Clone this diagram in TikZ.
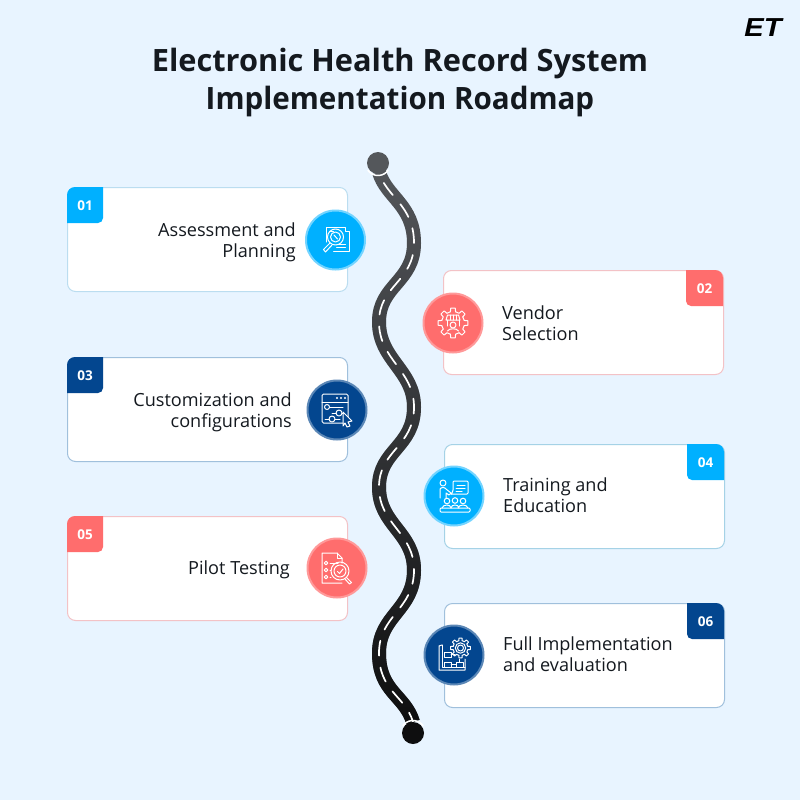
\documentclass[tikz,border=0pt]{standalone}
\usepackage{graphicx}
\usepackage{fontspec}
\setmainfont{Open Sans}
\newfontfamily\logofont{Liberation Sans}
\usetikzlibrary{fadings}
\definecolor{bgblue}{HTML}{E8F4FF}
\definecolor{inkdark}{HTML}{14191F}
\definecolor{cyanb}{HTML}{00B0FF}
\definecolor{redb}{HTML}{FF6D6D}
\definecolor{navyb}{HTML}{03468F}
\definecolor{cyanline}{HTML}{BBDDF0}
\definecolor{cyanline2}{HTML}{A5D2E6}
\definecolor{redline}{HTML}{F3C2C6}
\definecolor{navyline}{HTML}{A0C0DC}
\definecolor{roadgrey}{HTML}{54575B}
\definecolor{roadblack}{HTML}{0E0E0F}
\tikzfading[name=roadfade, top color=transparent!100, bottom color=transparent!0]
\tikzset{
  x=1pt,y=-1pt,
  cardbox/.style={draw=#1,line width=1pt,fill=white,rounded corners=8pt,minimum width=280pt,minimum height=104pt,inner sep=0pt,anchor=north west},
  cardtext/.style={inner sep=0pt,font=\fontsize{18.1}{21}\selectfont,text=inkdark},
  numtext/.style={inner sep=0pt,font=\fontsize{13.5}{16}\fontseries{sb}\selectfont,text=white},
  disc/.style={circle,fill=#1,inner sep=0pt,minimum size=59pt},
  iconline/.style={draw=white,line width=1pt,line cap=round,line join=round},
}
\newcommand{\badgeleft}[4]{% x y colour text
  \fill[#3] (#1,#2+36) [rounded corners=8pt] -- (#1,#2) [sharp corners] -- (#1+36,#2) [rounded corners=5pt] -- (#1+36,#2+36) [sharp corners] -- cycle;
  \node[numtext] (num#4) at (#1+18,#2+19) {#4};
}
\newcommand{\badgeright}[4]{% right-x y colour text
  \fill[#3] (#1-37,#2) [rounded corners=8pt] -- (#1,#2) [sharp corners] -- (#1,#2+36) [rounded corners=5pt] -- (#1-37,#2+36) [sharp corners] -- cycle;
  \node[numtext] (num#4) at (#1-18.5,#2+19) {#4};
}
\newcommand{\gearicon}[3]{% r-in r-out teeth
  \pgfmathsetmacro{\gstep}{360/#3}
  \pgfmathsetmacro{\gq}{\gstep*0.29}
  \pgfmathsetmacro{\gp}{\gstep*0.19}
  \foreach \k in {1,...,#3}{
    \pgfmathsetmacro{\ga}{\k*\gstep}
    \draw[iconline] (\ga-\gq:#1pt) -- (\ga-\gp:#2pt) -- (\ga+\gp:#2pt) -- (\ga+\gq:#1pt) -- (\ga+\gstep-\gq:#1pt);
  }
}
\begin{document}
\begin{tikzpicture}
\useasboundingbox (0,0) rectangle (800,800);
\fill[bgblue] (0,0) rectangle (800,800);

% logo and title
\node[inner sep=0pt,text=black,xscale=1.12,font=\logofont\fontsize{26}{26}\bfseries\itshape] (logo) at (763,27.5) {ET};
\node[inner sep=0pt,align=center,text=inkdark,font=\fontsize{30.75}{38}\fontseries{sb}\selectfont] (title) at (400,83)
  {Electronic Health Record System\\\scalebox{0.963}[1]{Implementation Roadmap}};

% cards
\node[cardbox=cyanline]  (card1) at (67,187) {};
\node[cardbox=redline]   (card2) at (443,270) {};
\node[cardbox=navyline]  (card3) at (67,357) {};
\node[cardbox=cyanline2] (card4) at (444,444) {};
\node[cardbox=redline]   (card5) at (67,516) {};
\node[cardbox=navyline]  (card6) at (444,603) {};

\badgeleft{67}{187}{cyanb}{01}
\badgeright{723}{270}{redb}{02}
\badgeleft{67}{357}{navyb}{03}
\badgeright{724}{444}{cyanb}{04}
\badgeleft{67}{516}{redb}{05}
\badgeright{724}{603}{navyb}{06}

\node[cardtext,align=right,anchor=east] (t1) at (296,242.5) {Assessment and\\Planning};
\node[cardtext,align=left,anchor=west]  (t2) at (502,323) {Vendor\\Selection};
\node[cardtext,align=right,anchor=east] (t3) at (292,412) {Customization and\\configurations};
\node[cardtext,align=left,anchor=west]  (t4) at (503,495) {Training and\\Education};
\node[cardtext,align=right,anchor=east] (t5) at (290,569.5) {Pilot Testing};
\node[cardtext,align=left,anchor=west]  (t6) at (503,654) {Full Implementation\\and evaluation};

% road
\def\roadpath{(379,172) .. controls (386,197) and (414,205) .. (414,243)
  .. controls (414,282) and (379,285) .. (379,322)
  .. controls (379,360) and (414,370) .. (414,407)
  .. controls (414,447) and (379,450) .. (379,487)
  .. controls (379,525) and (414,532) .. (414,570)
  .. controls (414,610) and (379,615) .. (379,653)
  .. controls (379,692) and (405,695) .. (413,722)}
\draw[roadgrey,line width=14pt] \roadpath;
\draw[roadblack,line width=14pt,path fading=roadfade] \roadpath;
\draw[white,line width=1.7pt,line cap=round,dash pattern=on 15pt off 12pt,dash phase=-12pt] \roadpath;

\draw[white,line width=1.5pt] (378,163) ++(-145:12.5pt) arc[start angle=-145,end angle=-35,radius=12.5pt];
\draw[white,line width=1.5pt] (413,733) ++(35:12.5pt) arc[start angle=35,end angle=145,radius=12.5pt];
\node[circle,fill=roadgrey,inner sep=0pt,minimum size=22pt] (roadtop) at (378,163) {};
\node[circle,fill=roadblack,inner sep=0pt,minimum size=22pt] (roadend) at (413,733) {};

% discs
\node[disc=cyanb,draw=cyanb!55!white,line width=2pt] (d1) at (335.5,240) {};
\node[disc=redb,draw=redb!70!white,line width=2pt] (d2) at (453,323) {};
\node[disc=navyb,draw=navyb!65!white,line width=2pt] (d3) at (337,410) {};
\node[disc=cyanb,draw=cyanb!55!white,line width=2pt] (d4) at (454,496) {};
\node[disc=redb,draw=redb!70!white,line width=2pt] (d5) at (337,568) {};
\node[disc=navyb,draw=navyb!65!white,line width=2pt] (d6) at (454,655) {};

% icon 1: document and magnifier
\begin{scope}[shift={(335.5,240)}]
  \draw[iconline] (-9,2) -- (-9,-13) -- (10,-13) -- (10,-9) -- (14,-9) -- (14,11) -- (-2,11);
  \draw[iconline] (-6,-9) -- (-2,-9);
  \draw[iconline] (0,-3) circle[radius=8pt];
  \draw[iconline] (0,-3) circle[radius=5pt];
  \draw[iconline] (-1.5,-5) -- (2,-1);
  \draw[iconline] (-5.5,3) -- (-12,9.5) -- (-10,12) -- (-3.5,5);
  \draw[iconline] (1,7) -- (10,7) (2,4) -- (10,4);
\end{scope}

% icon 2: gear and shop
\begin{scope}[shift={(453,323)}]
  \gearicon{11.5}{15}{8}
  \draw[iconline] (-7,-3) -- (-5.5,-8) -- (5.5,-8) -- (7,-3) -- cycle;
  \draw[iconline] (-3,-8) -- (-3,-3) (0,-8) -- (0,-3) (3,-8) -- (3,-3);
  \draw[iconline] (0,2) circle[radius=3pt];
  \draw[iconline] (-6,-3) -- (-6,3) (6,-3) -- (6,3);
  \draw[iconline] (-5.5,8) .. controls (-4,5) and (4,5) .. (5.5,8);
\end{scope}

% icon 3: window with sliders and cursor
\begin{scope}[shift={(337,410)}]
  \draw[iconline,rounded corners=1.5pt] (-15,-16) rectangle (11,13);
  \draw[iconline] (-15,-8) -- (11,-8);
  \fill[white] (0,-12) circle[radius=1.1pt] (4,-12) circle[radius=1.1pt] (8,-12) circle[radius=1.1pt];
  \draw[iconline] (-7.5,-3) -- (6,-3) (-5,3) -- (-1,3) (5,3) -- (7,3) (-12,9) -- (-8,9) (-2,9) -- (3,9);
  \draw[iconline] (-10,-3) circle[radius=2.5pt] (2,3) circle[radius=3pt] (-5,9) circle[radius=3pt];
  \draw[iconline,fill=navyb] (6,2) -- (15,11) -- (11,12) -- (13,16) -- (10,17) -- (8,13) -- (6,16) -- cycle;
\end{scope}

% icon 4: teacher and audience
\begin{scope}[shift={(454,496)}]
  \draw[iconline,rounded corners=1pt] (-3,-1.5) -- (-1,-5) -- (-1,-15) -- (14,-15) -- (14,-2) -- (-3,-2);
  \draw[iconline] (3,-11) -- (11,-11) (2,-8) -- (11,-8) (2,-5) -- (8,-5);
  \draw[iconline] (-11,-13) circle[radius=3pt];
  \draw[iconline] (-14,2) -- (-14,-7) .. controls (-13,-9) and (-9,-9) .. (-8,-7) -- (-3,-3) -- (-5,-1) -- (-8,-3) -- (-8,2);
  \draw[iconline] (-7,5) circle[radius=2.8pt] (1,4.5) circle[radius=2.8pt] (9,5) circle[radius=2.8pt];
  \draw[iconline] (-12,12) .. controls (-11,8) and (-3,8) .. (-3,12) (-3,12) .. controls (-3,8) and (5,8) .. (5,12) (4,12) .. controls (5,8) and (13,8) .. (14,12);
  \draw[iconline,rounded corners=1pt] (-14,12) rectangle (16,16);
\end{scope}

% icon 5: checklist and magnifier
\begin{scope}[shift={(337,568)}]
  \draw[iconline] (5,15) -- (-15,15) -- (-15,-15) -- (0,-15) -- (5,-10) -- (5,-5);
  \draw[iconline] (0,-15) -- (0,-10) -- (5,-10);
  \draw[iconline] (-11,-5) circle[radius=1.8pt] (-11,2) circle[radius=1.8pt] (-11,9) circle[radius=1.8pt];
  \draw[iconline] (-7,-5) -- (1,-5) (-7,2) -- (-6,2) (-7,9) -- (-6,9);
  \draw[iconline] (3,3) circle[radius=9pt] (3,3) circle[radius=6pt];
  \draw[iconline] (0.5,3.5) -- (2.5,5.5) -- (6,1);
  \draw[iconline] (9.5,9.5) -- (14.5,14.5) -- (12.5,16) -- (8,11);
\end{scope}

% icon 6: process board and gear
\begin{scope}[shift={(454,655)}]
  \draw[iconline] (-12,-10) -- (-15,-9) -- (-15,15) -- (11,15) -- (11,4);
  \draw[iconline] (-12,-10) -- (-12,12) -- (11,12);
  \draw[iconline] (-10,-3) rectangle (-3,2) (-10,7) rectangle (-3,12);
  \draw[iconline] (2,7) rectangle (9,12) (-3,9.5) -- (2,9.5) (-3,-0.5) -- (1,-0.5) (5.5,4) -- (5.5,7);
  \begin{scope}[shift={(6.5,-7)}]
    \gearicon{7.5}{10}{8}
    \draw[iconline] (0,0) circle[radius=3pt] (0,0) circle[radius=5.2pt];
  \end{scope}
\end{scope}
\end{tikzpicture}
\end{document}
